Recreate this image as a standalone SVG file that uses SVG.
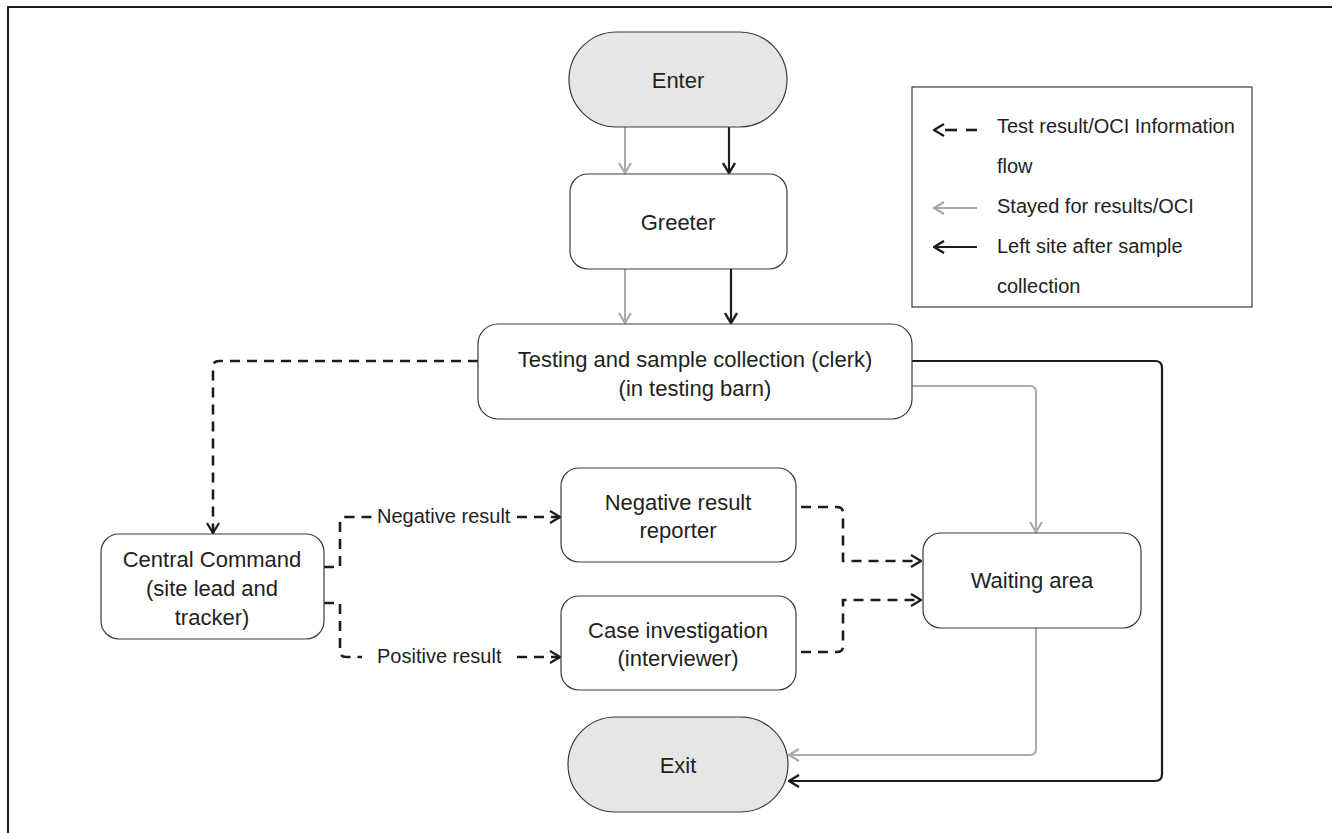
<svg xmlns="http://www.w3.org/2000/svg" width="1332" height="833" viewBox="0 0 1332 833">
<defs>
<style>
.node{fill:#ffffff;stroke:#3a3a3a;stroke-width:1.2}
.term{fill:#e7e6e6;stroke:#3a3a3a;stroke-width:1.2}
.t{font-family:"Liberation Sans",Arial,sans-serif;font-size:22px;fill:#231f20;text-anchor:middle}
.lab{font-family:"Liberation Sans",Arial,sans-serif;font-size:20px;fill:#231f20}
.blk{fill:none;stroke:#1c1c1c;stroke-width:2.2}
.gry{fill:none;stroke:#ababab;stroke-width:2}
.dsh{fill:none;stroke:#1c1c1c;stroke-width:2.6;stroke-dasharray:10 7}
</style>
<marker id="ah-b" viewBox="0 0 12 14" refX="11" refY="7" markerWidth="12" markerHeight="14" markerUnits="userSpaceOnUse" orient="auto"><path d="M1,1 L11,7 L1,13" fill="none" stroke="#1c1c1c" stroke-width="2.4"/></marker>
<marker id="ah-g" viewBox="0 0 12 14" refX="11" refY="7" markerWidth="12" markerHeight="14" markerUnits="userSpaceOnUse" orient="auto"><path d="M1,1 L11,7 L1,13" fill="none" stroke="#ababab" stroke-width="2.2"/></marker>
<marker id="ah-d" viewBox="0 0 12 14" refX="11" refY="7" markerWidth="12" markerHeight="14" markerUnits="userSpaceOnUse" orient="auto"><path d="M1,1 L11,7 L1,13" fill="none" stroke="#1c1c1c" stroke-width="2.2"/></marker>
</defs>
<rect x="0" y="0" width="1332" height="833" fill="#ffffff"/>
<g id="frame">
<path d="M8,833 V7 H1332" fill="none" stroke="#1c1c1c" stroke-width="2"/>
</g>

<g id="connectors">
<path class="gry" d="M625,127 V173" marker-end="url(#ah-g)"/>
<path class="blk" d="M729,127 V173" marker-end="url(#ah-b)"/>
<path class="gry" d="M625,269 V323" marker-end="url(#ah-g)"/>
<path class="blk" d="M731,269 V323" marker-end="url(#ah-b)"/>
<path class="dsh" d="M478,361 H219 Q213,361 213,367 V533" marker-end="url(#ah-d)"/>
<path class="dsh" d="M324,567 H340 V523 Q340,517 346,517 H372"/>
<path class="dsh" d="M517,517 H560" marker-end="url(#ah-d)"/>
<path class="dsh" d="M324,603 H340 V651 Q340,657 346,657 H362"/>
<path class="dsh" d="M517,657 H560" marker-end="url(#ah-d)"/>
<path class="dsh" d="M801,507 H837 Q843,507 843,513 V561 H921" marker-end="url(#ah-d)"/>
<path class="dsh" d="M801,652 H837 Q843,652 843,646 V600 H921" marker-end="url(#ah-d)"/>
<path class="blk" d="M912,361 H1155 Q1162,361 1162,368 V774 Q1162,781 1155,781 H789" marker-end="url(#ah-b)" stroke-width="2.8"/>
<path class="gry" d="M912,386 H1030 Q1036,386 1036,392 V532" marker-end="url(#ah-g)"/>
<path class="gry" d="M1036,628 V749 Q1036,755 1030,755 H789" marker-end="url(#ah-g)"/>
<text class="lab" x="377" y="523">Negative result</text>
<text class="lab" x="377" y="663">Positive result</text>
</g>

<g id="enter">
<rect class="term" x="569" y="32" width="218" height="95" rx="47.5" ry="47.5"/>
<text class="t" x="678" y="88">Enter</text>
</g>
<g id="greeter">
<rect class="node" x="570" y="174" width="217" height="95" rx="18" ry="18"/>
<text class="t" x="678" y="230">Greeter</text>
</g>
<g id="testing">
<rect class="node" x="478" y="324" width="434" height="95" rx="20" ry="20"/>
<text class="t" x="695" y="367">Testing and sample collection (clerk)</text>
<text class="t" x="695" y="396">(in testing barn)</text>
</g>
<g id="central">
<rect class="node" x="101" y="534" width="223" height="105" rx="18" ry="18"/>
<text class="t" x="212" y="567">Central Command</text>
<text class="t" x="212" y="596">(site lead and</text>
<text class="t" x="212" y="625">tracker)</text>
</g>
<g id="negative">
<rect class="node" x="561" y="468" width="235" height="94" rx="18" ry="18"/>
<text class="t" x="678" y="510">Negative result</text>
<text class="t" x="678" y="538">reporter</text>
</g>
<g id="case">
<rect class="node" x="561" y="596" width="235" height="94" rx="18" ry="18"/>
<text class="t" x="678" y="638">Case investigation</text>
<text class="t" x="678" y="666">(interviewer)</text>
</g>
<g id="waiting">
<rect class="node" x="923" y="533" width="218" height="95" rx="18" ry="18"/>
<text class="t" x="1032" y="588">Waiting area</text>
</g>
<g id="exit">
<rect class="term" x="568" y="717" width="220" height="95" rx="47.5" ry="47.5"/>
<text class="t" x="678" y="773">Exit</text>
</g>

<g id="legend">
<rect x="912" y="87" width="340" height="220" fill="#ffffff" stroke="#3a3a3a" stroke-width="1.2"/>
<path d="M977,130 H966" fill="none" stroke="#1c1c1c" stroke-width="2.6"/>
<path d="M957,130 H934" fill="none" stroke="#1c1c1c" stroke-width="2.6" stroke-dasharray="12 20" marker-end="url(#ah-d)"/>
<path d="M977,208 H934" class="gry" marker-end="url(#ah-g)"/>
<path d="M977,247 H934" class="blk" marker-end="url(#ah-b)"/>
<text class="lab" x="997" y="133" font-size="20.5">Test result/OCI Information</text>
<text class="lab" x="997" y="173" font-size="20.5">flow</text>
<text class="lab" x="997" y="213" font-size="20.5">Stayed for results/OCI</text>
<text class="lab" x="997" y="253" font-size="20.5">Left site after sample</text>
<text class="lab" x="997" y="293" font-size="20.5">collection</text>
</g>
</svg>
